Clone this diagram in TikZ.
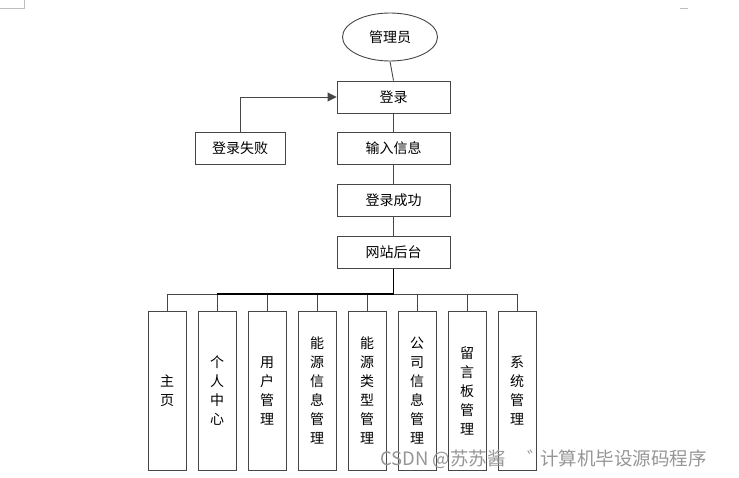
\documentclass[tikz,border=0pt]{standalone}
\usepackage{fontspec}
\setmainfont{Noto Sans CJK SC}
\usetikzlibrary{shapes.geometric,arrows.meta}
\definecolor{edge}{RGB}{70,70,70}
\definecolor{wm}{RGB}{150,150,150}
\tikzset{
  box/.style={draw=edge, line width=0.9pt, minimum width=113pt, minimum height=32pt, inner sep=0pt, font=\fontsize{14}{16}\selectfont},
  vbox/.style={draw=edge, line width=0.9pt, minimum width=38pt, minimum height=159pt, inner sep=0pt, font=\fontsize{14}{19}\selectfont, align=center},
  conn/.style={draw=edge, line width=0.9pt},
}
\begin{document}
\begin{tikzpicture}[x=1pt,y=-1pt]
\useasboundingbox (0,0) rectangle (739,478);
% page corner marks
\draw[gray!50, line width=0.6pt] (24,0) -- (24,8) -- (0,8);
\draw[gray!50, line width=0.6pt] (680,8) -- (688,8);
\node[ellipse, draw=edge, line width=0.9pt, minimum width=95pt, minimum height=48pt, inner sep=0pt, font=\fontsize{14}{16}\selectfont] (admin) at (390,37) {管理员};
\node[box] (login) at (393.5,97) {登录};
\node[box] (input) at (393.5,148.5) {输入信息};
\node[box] (succ) at (393.5,200.5) {登录成功};
\node[box] (back) at (393.5,252.5) {网站后台};
\node[box, minimum width=90pt] (fail) at (240,148.5) {登录失败};
\draw[conn] (admin.south) -- (login.north);
\draw[conn] (login) -- (input);
\draw[conn] (input) -- (succ);
\draw[conn] (succ) -- (back);
\draw[conn, -{Triangle[length=9pt,width=9pt]}] (fail.north) |- (login.west);
\coordinate (bus) at (393.5,294);
\draw[conn, line width=1.4pt, draw=black] (back.south) -- (bus);
\foreach \i/\t in {0/{主\\页}, 1/{个\\人\\中\\心}, 2/{用\\户\\管\\理}, 3/{能\\源\\信\\息\\管\\理}, 4/{能\\源\\类\\型\\管\\理}, 5/{公\\司\\信\\息\\管\\理}, 6/{留\\言\\板\\管\\理}, 7/{系\\统\\管\\理}} {
  \node[vbox] (m\i) at (167+50*\i,390.5) {\t};
  \coordinate (t\i) at (167+50*\i,294);
  \draw[conn] (t\i) -- (m\i.north);
}
\draw[conn] (t0) -- (t7);
\draw[line width=1.4pt] (t1) -- (bus);
\node[anchor=west, text=wm, font=\fontsize{18.5}{20}\selectfont, inner sep=0pt] (wmark) at (380,459) {CSDN @苏苏酱\hspace{22pt}゛\hspace{-6pt}计算机毕设源码程序};
\end{tikzpicture}
\end{document}
